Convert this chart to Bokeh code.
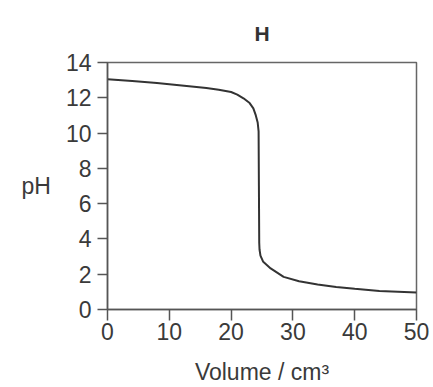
from bokeh.plotting import figure
from bokeh.embed import file_html
from bokeh.resources import INLINE
from bokeh.models import FixedTicker

volume = [0, 4, 8, 12, 16, 18, 20, 21, 22, 23, 23.6, 24.0, 24.3, 24.45, 24.5, 24.55, 24.6, 24.75, 25.2, 26.4, 28.5, 31, 34, 37, 40, 44, 50]
ph = [13.05, 12.95, 12.84, 12.7, 12.56, 12.46, 12.33, 12.18, 11.97, 11.7, 11.4, 11.0, 10.6, 10.1, 7.0, 3.8, 3.4, 3.05, 2.7, 2.33, 1.85, 1.6, 1.42, 1.27, 1.17, 1.05, 0.97]
x_ticks = [0, 10, 20, 30, 40, 50]
y_ticks = [0, 2, 4, 6, 8, 10, 12, 14]
title_text = "H"
x_label = "Volume / cm³"
y_label = "pH"

p = figure(width=433, height=387, x_range=(0, 50), y_range=(0, 14),
           output_backend="svg", toolbar_location=None,
           min_border_left=107, min_border_right=17, min_border_top=62, min_border_bottom=78,
           title=title_text)
p.title.align = "center"
p.title.text_font = "Liberation Sans"
p.title.text_font_size = "21px"
p.title.text_font_style = "bold"
p.title.text_color = "#333333"
p.title.standoff = 36

p.line(volume, ph, line_color="#333333", line_width=2)

p.xgrid.visible = False
p.ygrid.visible = False
p.outline_line_color = "#666666"
p.outline_line_width = 1.5
p.background_fill_color = "white"
p.border_fill_color = "white"

for ax in (p.xaxis[0], p.yaxis[0]):
    ax.axis_line_color = "#555555"
    ax.axis_line_width = 1.5
    ax.major_tick_line_color = "#555555"
    ax.major_tick_line_width = 1.5
    ax.minor_tick_line_color = None
    ax.major_tick_in = 0
    ax.major_label_text_font = "Liberation Sans"
    ax.major_label_text_font_size = "23px"
    ax.major_label_text_color = "#3a3a3a"
    ax.major_label_text_line_height = 1.0
    ax.axis_label_text_font = "Liberation Sans"
    ax.axis_label_text_font_size = "23px"
    ax.axis_label_text_font_style = "normal"
    ax.axis_label_text_color = "#3a3a3a"
    ax.axis_label_text_line_height = 1.0

p.xaxis.ticker = FixedTicker(ticks=x_ticks)
p.yaxis.ticker = FixedTicker(ticks=y_ticks)
p.xaxis.major_tick_out = 11
p.xaxis.major_label_standoff = 2
p.xaxis.axis_label = x_label
p.xaxis.axis_label_standoff = 16
p.yaxis.major_tick_out = 10
p.yaxis.major_label_standoff = 6
p.yaxis.axis_label = y_label
p.yaxis.axis_label_orientation = "horizontal"
p.yaxis.axis_label_standoff = 12

open("out.html", "w").write(file_html(p, INLINE))
